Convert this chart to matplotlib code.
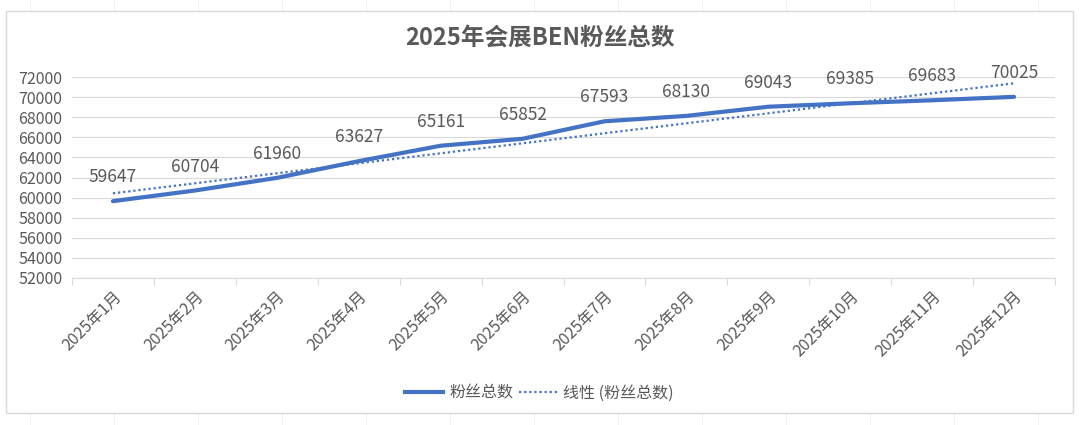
import matplotlib
matplotlib.use("Agg")
import matplotlib.pyplot as plt
import numpy as np
from matplotlib.patches import Rectangle
from matplotlib.lines import Line2D

plt.rcParams['font.family'] = ['Noto Sans CJK SC', 'DejaVu Sans']

months = ["2025年1月", "2025年2月", "2025年3月", "2025年4月", "2025年5月", "2025年6月",
          "2025年7月", "2025年8月", "2025年9月", "2025年10月", "2025年11月", "2025年12月"]
fans = [59647, 60704, 61960, 63627, 65161, 65852, 67593, 68130, 69043, 69385, 69683, 70025]
yticks = list(range(52000, 72001, 2000))
title = "2025年会展BEN粉丝总数"
series_name = "粉丝总数"
trend_name = "线性 (粉丝总数)"

W, H = 1080, 425
fig = plt.figure(figsize=(W / 100, H / 100), dpi=100)
fig.patch.set_facecolor("white")

# background: faint spreadsheet cell lines and chart box
bg = fig.add_axes([0, 0, 1, 1], zorder=-1)
bg.set_xlim(0, W)
bg.set_ylim(H, 0)
bg.axis("off")
for cx in np.arange(30, W, 84):
    bg.plot([cx, cx], [0, H], color="#eeeeee", lw=0.8)
bg.add_patch(Rectangle((6, 11), 1073 - 6, 413 - 11, facecolor="white",
                       edgecolor="#d9d9d9", lw=1, zorder=3))

ax = fig.add_axes([72 / W, 1 - 278 / H, (1055 - 72) / W, (278 - 77) / H], zorder=2)
ax.patch.set_alpha(0)
x = np.arange(len(months))
color = "#4472C4"
ax.plot(x, fans, color=color, lw=3.0, solid_capstyle="round", zorder=3)

coef = np.polyfit(x + 1, fans, 1)
trend = np.polyval(coef, x + 1)
ax.plot(x, trend, color=color, lw=1.6, linestyle=(0, (1, 1.3)), zorder=2)

for xi, v in zip(x, fans):
    ax.annotate(f"{v}", (xi, v), xytext=(0, 24), textcoords="offset pixels",
                ha="center", va="center", fontsize=12.5, color="#595959")

ax.set_xlim(-0.5, len(months) - 0.5)
ax.set_ylim(52000, 72000)
ax.set_yticks(yticks)
ax.set_yticklabels([str(t) for t in yticks], fontsize=11.5, color="#595959")
ax.grid(axis="y", color="#d9d9d9", lw=0.8)
ax.set_axisbelow(True)
ax.tick_params(axis="y", length=0, pad=7)

ax.set_xticks(x)
ax.set_xticklabels(months, rotation=45, ha="right", rotation_mode="anchor",
                   fontsize=11.5, color="#595959")
ax.tick_params(axis="x", length=0, pad=7)
ax.set_xticks(np.arange(-0.5, len(months) + 0.5, 1), minor=True)
ax.tick_params(axis="x", which="minor", length=5, color="#d9d9d9", width=0.8)
for s in ["top", "right", "left"]:
    ax.spines[s].set_visible(False)
ax.spines["bottom"].set_color("#d9d9d9")

fig.text(539.5 / W, 1 - 38 / H, title, ha="center", va="center", fontsize=17,
         fontweight="bold", color="#595959")

handles = [Line2D([], [], color=color, lw=3.0),
           Line2D([], [], color=color, lw=1.6, linestyle=(0, (1, 1.3)))]
fig.legend(handles, [series_name, trend_name], loc="center", bbox_to_anchor=(539.5 / W, 1 - 393 / H),
           ncol=2, frameon=False, fontsize=11.5, labelcolor="#595959", handlelength=2.4,
           handletextpad=0.4, columnspacing=0.3)

fig.savefig("out.png", dpi=100)
